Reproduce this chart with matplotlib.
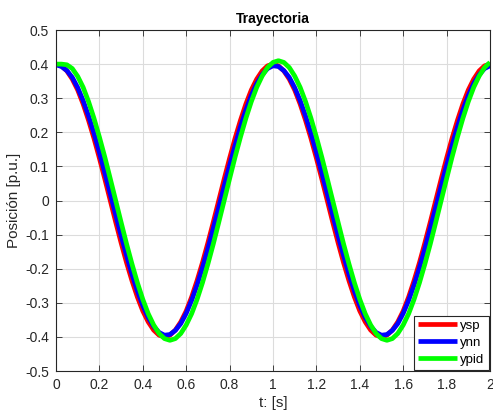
import numpy as np
import matplotlib
matplotlib.use("Agg")
import matplotlib.pyplot as plt

plt.rcParams['font.family'] = ['Liberation Sans', 'DejaVu Sans']

t = [round(0.025 * k, 3) for k in range(81)]

ysp = [0.400, 0.395, 0.380, 0.356, 0.324, 0.283, 0.235, 0.182, 0.124, 0.063,
       0.000, -0.063, -0.124, -0.182, -0.235, -0.283, -0.324, -0.356, -0.380, -0.395,
       -0.400, -0.395, -0.380, -0.356, -0.324, -0.283, -0.235, -0.182, -0.124, -0.063,
       0.000, 0.063, 0.124, 0.182, 0.235, 0.283, 0.324, 0.356, 0.380, 0.395,
       0.400, 0.395, 0.380, 0.356, 0.324, 0.283, 0.235, 0.182, 0.124, 0.063,
       0.000, -0.063, -0.124, -0.182, -0.235, -0.283, -0.324, -0.356, -0.380, -0.395,
       -0.400, -0.395, -0.380, -0.356, -0.324, -0.283, -0.235, -0.182, -0.124, -0.063,
       0.000, 0.063, 0.124, 0.182, 0.235, 0.283, 0.324, 0.356, 0.380, 0.395,
       0.400]

ynn = [0.398, 0.393, 0.381, 0.361, 0.331, 0.293, 0.248, 0.197, 0.141, 0.081,
       0.020, -0.042, -0.103, -0.161, -0.216, -0.265, -0.308, -0.343, -0.369, -0.387,
       -0.395, -0.393, -0.381, -0.361, -0.331, -0.293, -0.248, -0.197, -0.141, -0.081,
       -0.020, 0.042, 0.103, 0.161, 0.216, 0.265, 0.308, 0.343, 0.369, 0.387,
       0.395, 0.393, 0.381, 0.361, 0.331, 0.293, 0.248, 0.197, 0.141, 0.081,
       0.020, -0.042, -0.103, -0.161, -0.216, -0.265, -0.308, -0.343, -0.369, -0.387,
       -0.395, -0.393, -0.381, -0.361, -0.331, -0.293, -0.248, -0.197, -0.141, -0.081,
       -0.020, 0.042, 0.103, 0.161, 0.216, 0.265, 0.308, 0.343, 0.369, 0.387,
       0.395]

ypid = [0.400, 0.400, 0.398, 0.387, 0.364, 0.332, 0.290, 0.241, 0.186, 0.127,
        0.064, 0.000, -0.064, -0.127, -0.186, -0.241, -0.290, -0.332, -0.365, -0.390,
        -0.405, -0.410, -0.405, -0.390, -0.365, -0.332, -0.290, -0.241, -0.186, -0.127,
        -0.064, 0.000, 0.064, 0.127, 0.186, 0.241, 0.290, 0.332, 0.365, 0.390,
        0.405, 0.410, 0.405, 0.390, 0.365, 0.332, 0.290, 0.241, 0.186, 0.127,
        0.064, 0.000, -0.064, -0.127, -0.186, -0.241, -0.290, -0.332, -0.365, -0.390,
        -0.405, -0.410, -0.405, -0.390, -0.365, -0.332, -0.290, -0.241, -0.186, -0.127,
        -0.064, 0.000, 0.064, 0.127, 0.186, 0.241, 0.290, 0.332, 0.365, 0.390,
        0.405]

series_names = ['ysp', 'ynn', 'ypid']
series_colors = ['#ff0000', '#0000ff', '#00ff00']

xticks = [0, 0.2, 0.4, 0.6, 0.8, 1, 1.2, 1.4, 1.6, 1.8, 2]
xticklabels = ['0', '0.2', '0.4', '0.6', '0.8', '1', '1.2', '1.4', '1.6', '1.8', '2']
yticks = [-0.5, -0.4, -0.3, -0.2, -0.1, 0, 0.1, 0.2, 0.3, 0.4, 0.5]
yticklabels = ['-0.5', '-0.4', '-0.3', '-0.2', '-0.1', '0', '0.1', '0.2', '0.3', '0.4', '0.5']

fig = plt.figure(figsize=(4.93, 4.11), dpi=100)
ax = fig.add_axes([0.1136, 0.0973, 0.8803, 0.8297])

for ys, name, col in zip([ysp, ynn, ypid], series_names, series_colors):
    ax.plot(t, ys, color=col, lw=3.4, label=name, solid_capstyle='butt')

ax.set_xlim(0, 2)
ax.set_ylim(-0.5, 0.5)
ax.set_xticks(xticks)
ax.set_xticklabels(xticklabels)
ax.set_yticks(yticks)
ax.set_yticklabels(yticklabels)
ax.grid(True, color='#dcdcdc', lw=0.8)
ax.set_axisbelow(True)
ax.tick_params(direction='in', top=True, right=True, labelsize=10, colors='#262626',
               length=4, width=0.6, pad=5)
for s in ax.spines.values():
    s.set_color('#262626')
    s.set_linewidth(0.8)

ax.set_title('Trayectoria', fontsize=10, fontweight='bold', color='#000000', pad=5)
ax.set_xlabel('t: [s]', fontsize=11, color='#262626', labelpad=3)
ax.set_ylabel('Posición [p.u.]', fontsize=11, color='#262626', labelpad=3)

leg = ax.legend(loc='lower right', fontsize=9.5, frameon=True, fancybox=False,
                edgecolor='#262626', framealpha=1, handlelength=3.0,
                borderaxespad=0.1, borderpad=0.3, labelspacing=0.35,
                handletextpad=0.25)
leg.get_frame().set_linewidth(0.8)

fig.savefig('out.png', dpi=100)
